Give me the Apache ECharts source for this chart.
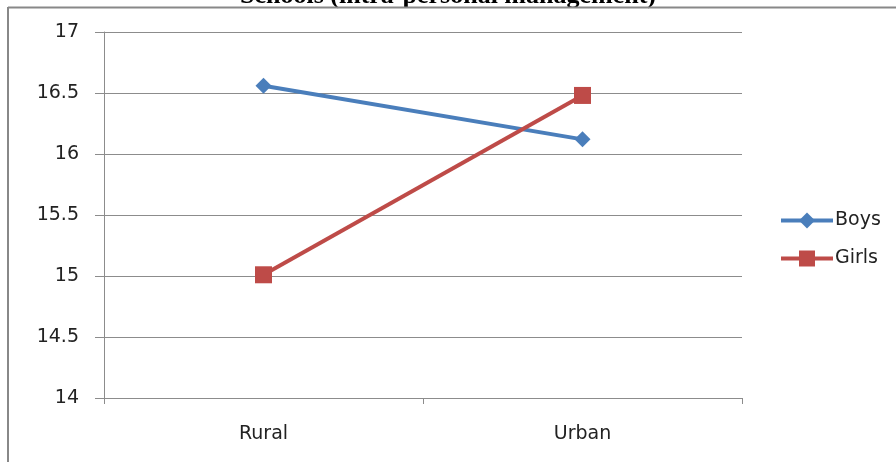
<!DOCTYPE html>
<html>
<head>
<meta charset="utf-8">
<script src="https://cdn.jsdelivr.net/npm/echarts@6/dist/echarts.min.js"></script>
<style>
  html, body { margin: 0; padding: 0; background: #fff; }
  #chart { width: 896px; height: 462px; }
</style>
</head>
<body>
<div id="chart"></div>
<script>
// Mean scores by school location
const categories = ['Rural', 'Urban'];
const boys = [16.56, 16.12];
const girls = [15.01, 16.48];
const yTicks = { min: 14, max: 17, interval: 0.5 };

const chart = echarts.init(document.getElementById('chart'), null, { renderer: 'canvas' });

const labelFont = { fontFamily: 'DejaVu Sans, sans-serif', fontSize: 19, color: '#222' };

chart.setOption({
  animation: false,
  backgroundColor: '#fff',
  title: {
    text: 'Schools (intra-personal management)',
    left: 'center',
    top: -17,
    padding: 0,
    textStyle: { fontFamily: 'Liberation Serif, Times New Roman, serif', fontWeight: 'bold', fontSize: 26, color: '#000' }
  },
  graphic: [
    { type: 'line', z: 10, shape: { x1: 8, y1: 7.5, x2: 896, y2: 7.5 }, style: { stroke: '#888', lineWidth: 2 } },
    { type: 'line', z: 10, shape: { x1: 8, y1: 7, x2: 8, y2: 462 }, style: { stroke: '#888', lineWidth: 2 } }
  ],
  grid: { left: 104, right: 154, top: 32, bottom: 64 },
  legend: {
    orient: 'vertical',
    left: 779,
    top: 211,
    padding: 0,
    itemWidth: 52,
    itemHeight: 20,
    itemGap: 19,
    lineStyle: { width: 4 },
    textStyle: { fontFamily: 'DejaVu Sans, sans-serif', fontSize: 19, color: '#222', padding: [0, 0, 0, -3] },
    data: ['Boys', 'Girls']
  },
  xAxis: {
    type: 'category',
    data: categories,
    boundaryGap: true,
    axisLine: { lineStyle: { color: '#8c8c8c', width: 1 } },
    axisTick: { show: true, length: 6, lineStyle: { color: '#8c8c8c' } },
    axisLabel: Object.assign({ margin: 27 }, labelFont),
    splitLine: { show: false }
  },
  yAxis: {
    type: 'value',
    min: yTicks.min,
    max: yTicks.max,
    interval: yTicks.interval,
    axisLine: { show: true, lineStyle: { color: '#8c8c8c', width: 1 } },
    axisTick: { show: true, length: 9, lineStyle: { color: '#8c8c8c' } },
    axisLabel: Object.assign({ margin: 25 }, labelFont),
    splitLine: { show: true, lineStyle: { color: '#8c8c8c', width: 1 } }
  },
  series: [
    {
      name: 'Boys',
      type: 'line',
      data: boys,
      symbol: 'diamond',
      symbolSize: 16,
      lineStyle: { color: '#4A7EBB', width: 4 },
      itemStyle: { color: '#4A7EBB' }
    },
    {
      name: 'Girls',
      type: 'line',
      data: girls,
      symbol: 'rect',
      symbolSize: 17,
      lineStyle: { color: '#BE4B48', width: 4 },
      itemStyle: { color: '#BE4B48' }
    }
  ]
});
</script>
</body>
</html>
